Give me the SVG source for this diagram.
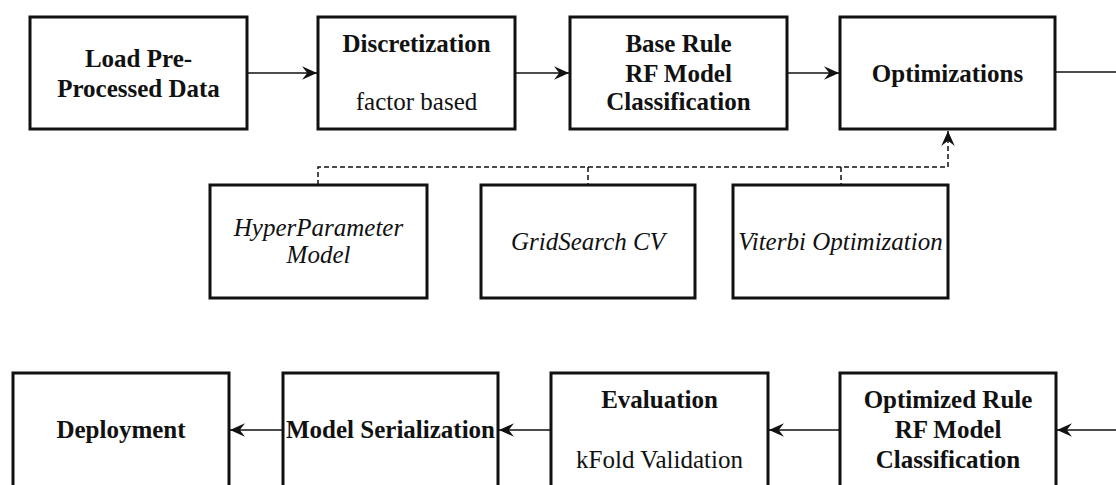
<svg xmlns="http://www.w3.org/2000/svg" width="1116" height="485" viewBox="0 0 1116 485">
  <style>
    .box { fill: #ffffff; stroke: #111111; stroke-width: 3; }
    .t { font-family: "Liberation Serif", "Times New Roman", Times, serif; font-size: 25px; fill: #111111; text-anchor: middle; }
    .b { font-weight: bold; }
    .i { font-style: italic; }
    .flow { fill: none; stroke: #111111; stroke-width: 1.7; }
    .dash { fill: none; stroke: #111111; stroke-width: 1.5; stroke-dasharray: 5 3; }
  </style>
  <defs>
    <marker id="arrow" viewBox="0 0 10 10" refX="10" refY="5" markerWidth="15" markerHeight="15" markerUnits="userSpaceOnUse" orient="auto">
      <path d="M0,0.5 L10,5 L0,9.5 L3.5,5 z" fill="#111111"/>
    </marker>
  </defs>
  <rect width="1116" height="485" fill="#ffffff"/>

  <!-- Connectors -->
  <g id="connectors">
    <line class="flow" x1="247" y1="73" x2="317" y2="73" marker-end="url(#arrow)"/>
    <line class="flow" x1="515" y1="73" x2="569" y2="73" marker-end="url(#arrow)"/>
    <line class="flow" x1="787" y1="73" x2="839" y2="73" marker-end="url(#arrow)"/>
    <line class="flow" x1="1055" y1="72" x2="1116" y2="72"/>
    <!-- optimisation methods feeding back into the optimisations stage -->
    <polyline class="dash" points="318,185 318,167 948,167 948,131" marker-end="url(#arrow)"/>
    <line class="dash" x1="588" y1="167" x2="588" y2="185"/>
    <line class="dash" x1="841" y1="167" x2="841" y2="185"/>
    <!-- lower row flows right to left -->
    <line class="flow" x1="1116" y1="430" x2="1057" y2="430" marker-end="url(#arrow)"/>
    <line class="flow" x1="840" y1="430" x2="769" y2="430" marker-end="url(#arrow)"/>
    <line class="flow" x1="551" y1="430" x2="499" y2="430" marker-end="url(#arrow)"/>
    <line class="flow" x1="283" y1="430" x2="230" y2="430" marker-end="url(#arrow)"/>
  </g>

  <!-- Top row -->
  <g id="load-data">
    <rect class="box" x="30" y="17" width="217" height="112"/>
    <text class="t b" x="138.5" y="67">Load Pre-</text>
    <text class="t b" x="138.5" y="97">Processed Data</text>
  </g>
  <g id="discretization">
    <rect class="box" x="318" y="17" width="197" height="112"/>
    <text class="t b" x="416.5" y="52">Discretization</text>
    <text class="t" x="416.5" y="110">factor based</text>
  </g>
  <g id="base-rule">
    <rect class="box" x="570" y="17" width="217" height="112"/>
    <text class="t b" x="678.5" y="52">Base Rule</text>
    <text class="t b" x="678.5" y="82">RF Model</text>
    <text class="t b" x="678.5" y="110">Classification</text>
  </g>
  <g id="optimizations">
    <rect class="box" x="840" y="17" width="215" height="112"/>
    <text class="t b" x="947.5" y="82">Optimizations</text>
  </g>

  <!-- Optimisation methods -->
  <g id="hyperparameter">
    <rect class="box" x="210" y="185" width="217" height="113"/>
    <text class="t i" x="318.5" y="236">HyperParameter</text>
    <text class="t i" x="318.5" y="263">Model</text>
  </g>
  <g id="gridsearch">
    <rect class="box" x="481" y="185" width="214" height="113"/>
    <text class="t i" x="588" y="250">GridSearch CV</text>
  </g>
  <g id="viterbi">
    <rect class="box" x="733" y="185" width="215" height="113"/>
    <text class="t i" x="840.5" y="250">Viterbi Optimization</text>
  </g>

  <!-- Bottom row -->
  <g id="deployment">
    <rect class="box" x="13" y="373" width="216" height="114"/>
    <text class="t b" x="121" y="438">Deployment</text>
  </g>
  <g id="serialization">
    <rect class="box" x="283" y="373" width="215" height="114"/>
    <text class="t b" x="390.5" y="438">Model Serialization</text>
  </g>
  <g id="evaluation">
    <rect class="box" x="551" y="373" width="217" height="114"/>
    <text class="t b" x="659.5" y="408">Evaluation</text>
    <text class="t" x="659.5" y="468">kFold Validation</text>
  </g>
  <g id="optimized-rule">
    <rect class="box" x="840" y="373" width="216" height="114"/>
    <text class="t b" x="948" y="408">Optimized Rule</text>
    <text class="t b" x="948" y="438">RF Model</text>
    <text class="t b" x="948" y="468">Classification</text>
  </g>
</svg>
